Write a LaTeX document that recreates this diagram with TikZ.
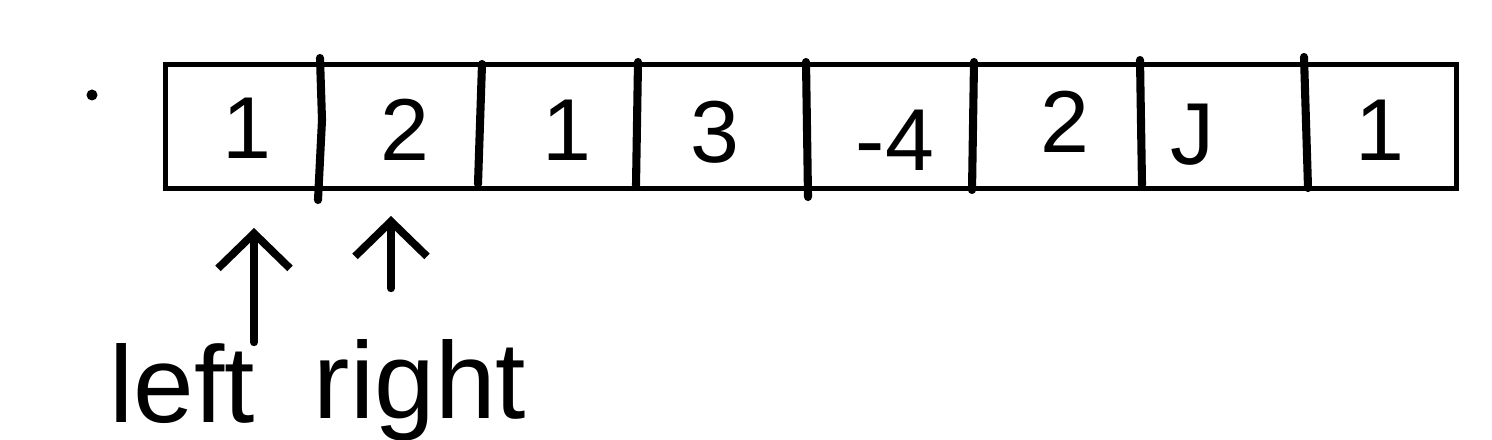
\documentclass[tikz,border=0pt]{standalone}
\usepackage{fontspec}
\setmainfont{Liberation Sans}
\usetikzlibrary{arrows.meta}
\begin{document}
\begin{tikzpicture}[x=0.01cm,y=-0.01cm,
  boxline/.style={line width=1.4pt},
  divider/.style={line width=2.3pt, line cap=round},
  num/.style={font=\fontsize{25}{30}\selectfont, inner sep=0pt},
  lbl/.style={font=\fontsize{31}{36}\selectfont, inner sep=0pt, anchor=base},
  ptr/.style={line width=2.2pt, line cap=round, -{Straight Barb[length=0.35cm, width=0.72cm, line width=2.2pt]}}]
\useasboundingbox (0,0) rectangle (1492,440);
\node[draw, boxline, minimum width=12.9cm, minimum height=1.24cm, inner sep=0pt, anchor=north west] (arr) at (163,62) {};
% cell dividers
\draw[divider] (320,58) -- (322,120) -- (318,200);
\draw[divider] (482,64) -- (478,184);
\draw[divider] (638,62) -- (636,185);
\draw[divider] (806,62) -- (808,197);
\draw[divider] (974,62) -- (972,190);
\draw[divider] (1140,60) -- (1142,185);
\draw[divider] (1304,57) -- (1308,188);
% values
\node[num] (v1) at (247,128) {1};
\node[num] (v2) at (405,130) {2};
\node[num] (v3) at (567,130) {1};
\node[num] (v4) at (715,132) {3};
\node[num] (v5) at (895,140) {-4};
\node[num] (v6) at (1065,122) {2};
\node[num] (v7) at (1192,135) {J};
\node[num] (v8) at (1380,130) {1};
% dot
\fill (92,95) circle[radius=0.055cm];
% labels
\node[lbl] (left) at (182,422) {left};
\node[lbl] (right) at (420,418) {right};
\coordinate (lt) at (254,228);
\coordinate (rt) at (391,216);
\draw[ptr] (left.north -| lt) -- (lt);
\draw[ptr] (right.north -| rt) ++(0,-50) -- (rt);
\end{tikzpicture}
\end{document}
